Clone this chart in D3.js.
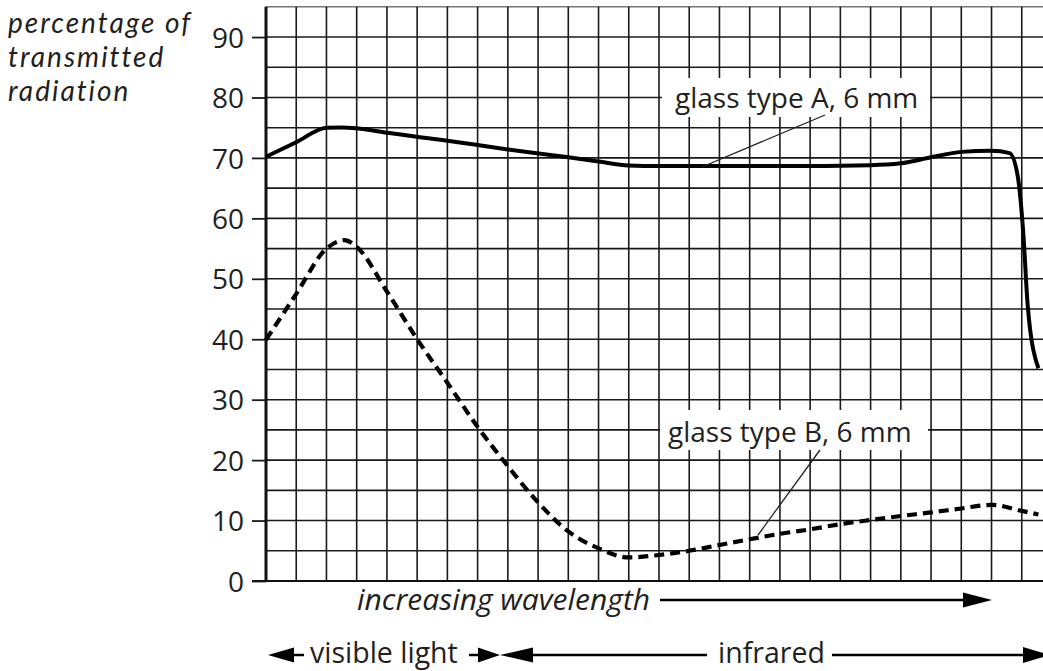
<!DOCTYPE html>
<html>
<head>
<meta charset="utf-8">
<script src="https://cdn.jsdelivr.net/npm/d3@7"></script>
<style>
  html, body { margin: 0; padding: 0; background: #fff; }
  svg { display: block; }
  text { font-family: "Open Sans", "Noto Sans", sans-serif; fill: #231f20; }
</style>
</head>
<body>
<svg id="chart" width="1043" height="671"></svg>
<script>
// ---- data (x in grid columns of increasing wavelength, y in %) ----
const xA = [0, 1, 2, 2.5, 3, 4, 6, 8, 10, 11, 12, 13, 17, 20, 21, 22, 23, 24, 24.6, 24.87, 25.05, 25.2, 25.55];
const yA = [70.2, 72.6, 75.0, 75.05, 74.9, 74.15, 72.85, 71.4, 70.1, 69.4, 68.75, 68.65, 68.65, 68.8, 69.1, 70.1, 71.0, 71.2, 70.8, 66.9, 57.6, 45.4, 35.2];
const xB = [0, 1, 2, 2.6, 3, 4, 5, 6, 7, 8, 9, 10, 11, 12, 13, 14, 15, 16, 17, 18, 19, 20, 21, 22, 23, 24, 25, 25.55];
const yB = [39.9, 47.5, 55.0, 56.4, 55.3, 47.9, 40.0, 32.8, 25.5, 19.0, 13.0, 8.2, 5.4, 3.9, 4.3, 5.0, 5.96, 6.9, 7.8, 8.55, 9.4, 10.1, 10.75, 11.35, 12.0, 12.6, 11.6, 11.0];
const yTicks = [0, 10, 20, 30, 40, 50, 60, 70, 80, 90];
const yTitle = ["percentage of", "transmitted", "radiation"];
const labelA = "glass type A, 6 mm";
const labelB = "glass type B, 6 mm";
const xTitle = "increasing wavelength";
const bandVisible = "visible light";
const bandInfrared = "infrared";

// ---- layout ----
const svg = d3.select("#chart");
const colW = 30.23;
const x0 = 266;
const x = d3.scaleLinear().domain([0, 25.7]).range([x0, x0 + 25.7 * colW]);
const y = d3.scaleLinear().domain([0, 95]).range([581, 581 - 95 * 6.044]);

const grid = svg.append("g");
d3.range(5, 95, 5).forEach(v => {
  grid.append("line").attr("x1", x(0)).attr("x2", 1043).attr("y1", y(v)).attr("y2", y(v))
    .attr("stroke", "#1a1a1a").attr("stroke-width", 1.6);
});
grid.append("line").attr("x1", x(0)).attr("x2", 1043).attr("y1", y(95)).attr("y2", y(95))
  .attr("stroke", "#777").attr("stroke-width", 1.6);
d3.range(1, 26).forEach(c => {
  grid.append("line").attr("x1", x(c)).attr("x2", x(c)).attr("y1", y(0)).attr("y2", y(95))
    .attr("stroke", "#1a1a1a").attr("stroke-width", 1.6);
});

// y axis
const yAxis = d3.axisLeft(y).tickValues(yTicks).tickSize(14).tickPadding(8).tickFormat(d3.format("d"));
const ga = svg.append("g").attr("transform", `translate(${x0},0)`).call(yAxis);
ga.select(".domain").remove();
ga.selectAll(".tick line").attr("stroke", "#1a1a1a").attr("stroke-width", 1.8);
ga.selectAll(".tick text").style("font-size", "28px").attr("fill", "#231f20").attr("dy", "0.36em")
  .style("font-family", "'Open Sans', sans-serif");
svg.append("line").attr("x1", x0).attr("x2", x0).attr("y1", y(95)).attr("y2", y(0))
  .attr("stroke", "#111").attr("stroke-width", 3);
svg.append("line").attr("x1", x0 - 14).attr("x2", 1043).attr("y1", y(0)).attr("y2", y(0))
  .attr("stroke", "#111").attr("stroke-width", 2);

// y title (one text per line)
yTitle.forEach((t, i) => {
  svg.append("text").attr("x", 8).attr("y", 33 + i * 34)
    .style("font-family", "Lato, 'Open Sans', sans-serif")
    .style("font-size", "28px").style("font-style", "italic").style("letter-spacing", "2px")
    .text(t);
});

// curves
const line = d3.line().x(d => x(d[0])).y(d => y(d[1])).curve(d3.curveMonotoneX);
svg.append("path").datum(xA.map((v, i) => [v, yA[i]])).attr("d", line)
  .attr("fill", "none").attr("stroke", "#000").attr("stroke-width", 4).attr("stroke-linejoin", "round");
svg.append("path").datum(xB.map((v, i) => [v, yB[i]])).attr("d", line)
  .attr("fill", "none").attr("stroke", "#000").attr("stroke-width", 4.2).attr("stroke-dasharray", "10,6");

// labels with white boxes and leaders
function label(text, bx, by, bw, bh, tx, ty, lx1, ly1, lx2, ly2) {
  svg.append("rect").attr("x", bx).attr("y", by).attr("width", bw).attr("height", bh).attr("fill", "#fff");
  svg.append("text").attr("x", tx).attr("y", ty).style("font-size", "28px").text(text);
  svg.append("line").attr("x1", lx1).attr("y1", ly1).attr("x2", lx2).attr("y2", ly2)
    .attr("stroke", "#222").attr("stroke-width", 1.3);
}
label(labelA, 662, 78, 268, 39, 675, 108, 825, 115, 702, 167);
label(labelB, 660, 410, 268, 40, 668, 442, 820, 450, 758, 535);

// x title + arrow
svg.append("text").attr("x", 357).attr("y", 610).style("font-size", "30px").style("font-style", "italic").text(xTitle);
svg.append("line").attr("x1", 660).attr("x2", 965).attr("y1", 600).attr("y2", 600).attr("stroke", "#000").attr("stroke-width", 2.5);
svg.append("path").attr("d", "M963,592.5 L992,600 L963,607.5 Z").attr("fill", "#000");

// bands
const by = 655;
svg.append("path").attr("d", `M268,${by} L294,${by-7.5} L294,${by+7.5} Z`).attr("fill", "#000");
svg.append("line").attr("x1", 292).attr("x2", 304).attr("y1", by).attr("y2", by).attr("stroke", "#000").attr("stroke-width", 2.5);
svg.append("text").attr("x", 310).attr("y", 663).style("font-size", "28.5px").text(bandVisible);
svg.append("line").attr("x1", 469).attr("x2", 480).attr("y1", by).attr("y2", by).attr("stroke", "#000").attr("stroke-width", 2.5);
svg.append("path").attr("d", `M478,${by-7.5} L500,${by} L478,${by+7.5} Z`).attr("fill", "#000");
svg.append("path").attr("d", `M500,${by} L533,${by-7.5} L533,${by+7.5} Z`).attr("fill", "#000");
svg.append("line").attr("x1", 531).attr("x2", 707).attr("y1", by).attr("y2", by).attr("stroke", "#000").attr("stroke-width", 2.5);
svg.append("text").attr("x", 718).attr("y", 663).style("font-size", "28.5px").text(bandInfrared);
svg.append("line").attr("x1", 832).attr("x2", 1025).attr("y1", by).attr("y2", by).attr("stroke", "#000").attr("stroke-width", 2.5);
svg.append("path").attr("d", `M1023,${by-8} L1050,${by} L1023,${by+8} Z`).attr("fill", "#000");
</script>
</body>
</html>
